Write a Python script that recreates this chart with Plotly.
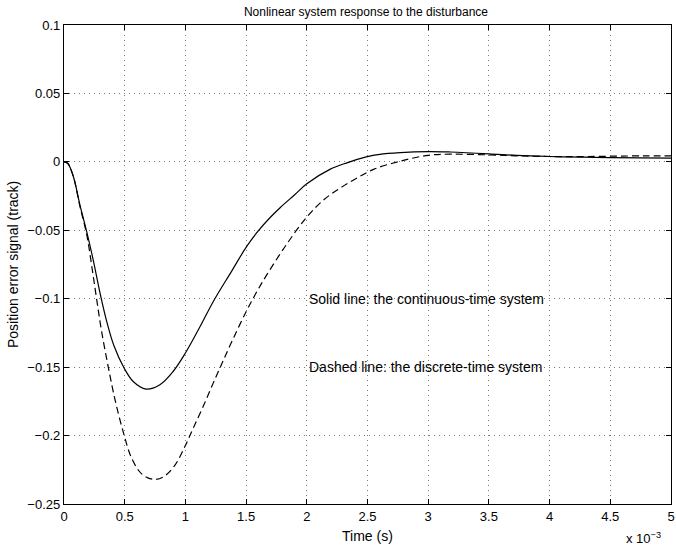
import plotly.graph_objects as go

# time axis in units of 1e-3 s
t_cont = [0, 0.03, 0.077, 0.13, 0.187, 0.24, 0.297, 0.35, 0.41, 0.497, 0.57, 0.675,
          0.79, 0.90, 1.0, 1.12, 1.23, 1.38, 1.505, 1.6, 1.7, 1.78, 1.9, 2.0, 2.19, 2.33,
          2.49, 2.6, 2.77, 3.0, 3.18, 3.5, 3.73, 4.0, 4.28, 4.5, 5.0]
y_cont = [0, -0.001, -0.0107, -0.031, -0.051, -0.0715, -0.096, -0.116, -0.134, -0.151,
          -0.1605, -0.166, -0.1628, -0.153, -0.1397, -0.1205, -0.102, -0.080, -0.0618,
          -0.0505, -0.0405, -0.0335, -0.024, -0.016, -0.0055, -0.0007, 0.0036, 0.0055,
          0.0068, 0.0075, 0.0072, 0.0059, 0.0047, 0.0039, 0.0034, 0.0031, 0.0027]

t_disc = [0, 0.03, 0.077, 0.13, 0.187, 0.23, 0.27, 0.31, 0.365, 0.42, 0.49, 0.557, 0.64,
          0.736, 0.818, 0.914, 0.997, 1.065, 1.147, 1.23, 1.31, 1.394, 1.505, 1.59, 1.67,
          1.83, 2.0, 2.14, 2.27, 2.41, 2.55, 2.77, 3.0, 3.18, 3.5, 3.73, 4.0, 4.3, 4.77,
          5.0]
y_disc = [0, -0.001, -0.0107, -0.032, -0.053, -0.077, -0.101, -0.124, -0.150, -0.1737,
          -0.198, -0.2165, -0.228, -0.232, -0.2302, -0.2216, -0.2078, -0.1945, -0.1786,
          -0.1615, -0.1455, -0.1291, -0.1086, -0.0946, -0.0826, -0.0607, -0.0403, -0.0277,
          -0.0195, -0.0120, -0.0055, 0.0005, 0.0048, 0.0056, 0.0051, 0.0044, 0.0039,
          0.0039, 0.0044, 0.0044]

x_ticks = [0, 0.5, 1, 1.5, 2, 2.5, 3, 3.5, 4, 4.5, 5]
y_ticks = [-0.25, -0.2, -0.15, -0.1, -0.05, 0, 0.05, 0.1]

font = "Liberation Sans, Arial, Helvetica, sans-serif"

fig = go.Figure()

fig.add_trace(go.Scatter(x=t_cont, y=y_cont, mode="lines", line_shape="spline",
                         line=dict(color="black", width=1.2, smoothing=1.0)))
fig.add_trace(go.Scatter(x=t_disc, y=y_disc, mode="lines", line_shape="spline",
                         line=dict(color="black", width=1.2, dash="7px,4px", smoothing=1.0)))

axis_style = dict(
    showline=True, linecolor="black", linewidth=1.3, mirror="ticks",
    ticks="inside", ticklen=5, tickcolor="black",
    showgrid=True, gridcolor="#7a7a7a", griddash="1px,4px", gridwidth=1,
    zeroline=False, tickfont=dict(size=13, color="black"), automargin=False,
    ticklabeloverflow="allow",
)

fig.update_xaxes(range=[0, 5], tickvals=x_ticks, **axis_style)
fig.update_yaxes(range=[-0.25, 0.1], tickvals=y_ticks, **axis_style)

# axis titles
fig.add_annotation(x=0.5, y=0, xref="paper", yref="paper", yshift=-32,
                   text="Time (s)", showarrow=False, xanchor="center", yanchor="middle",
                   font=dict(size=14, color="black"))
fig.add_annotation(x=0, y=0.5, xref="paper", yref="paper", xshift=-51.5, textangle=-90,
                   text="Position error signal (track)", showarrow=False,
                   xanchor="center", yanchor="middle", font=dict(size=14, color="black"))

fig.add_annotation(x=2.0, y=-0.1, text="Solid line: the continuous-time system",
                   showarrow=False, xanchor="left", yanchor="middle",
                   font=dict(size=14, color="black"))
fig.add_annotation(x=2.0, y=-0.15, text="Dashed line: the discrete-time system",
                   showarrow=False, xanchor="left", yanchor="middle",
                   font=dict(size=14, color="black"))
fig.add_annotation(x=1.0, y=0, xref="paper", yref="paper", yshift=-33.5, xshift=-8,
                   text="x 10<sup>−3</sup>", showarrow=False, xanchor="right",
                   yanchor="middle", font=dict(size=13, color="black"))

fig.update_layout(
    width=676, height=551,
    margin=dict(l=64, r=5, t=25, b=46.5),
    paper_bgcolor="white", plot_bgcolor="white",
    showlegend=False,
    font=dict(family=font, size=12, color="black"),
    title=dict(text="Nonlinear system response to the disturbance", x=0.5414, xanchor="center",
               y=0.978, yanchor="middle", font=dict(size=12)),
)

# drop the default 8px page margin so the figure fills the window
fig.write_html("out.html", config={"displayModeBar": False},
               post_script="document.body.style.margin='0';")
